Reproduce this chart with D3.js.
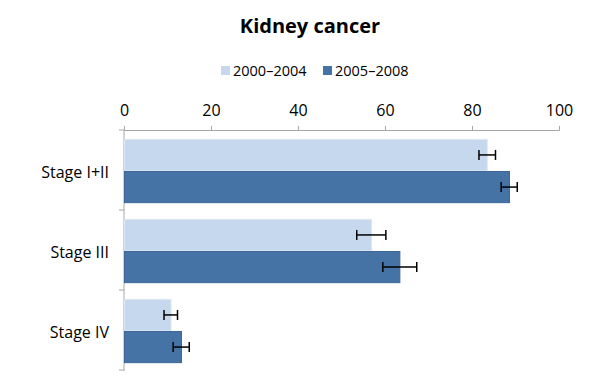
<!DOCTYPE html>
<html>
<head>
<meta charset="utf-8">
<script src="https://cdn.jsdelivr.net/npm/d3@7"></script>
<style>
  body { margin: 0; background: #fff; }
  text { font-family: "Open Sans", "Liberation Sans", sans-serif; fill: #000; }
</style>
</head>
<body>
<script>
// chart data
var categories = ['Stage I+II', 'Stage III', 'Stage IV'];
var seriesNames = ['2000–2004', '2005–2008'];
var values2000 = [83.4, 56.8, 10.7];
var values2005 = [88.5, 63.3, 13.1];
var lower2000 = [81.6, 53.5, 9.2];
var upper2000 = [85.4, 60.2, 12.3];
var lower2005 = [86.7, 59.5, 11.3];
var upper2005 = [90.4, 67.3, 15.0];
var xTicks = [0, 20, 40, 60, 80, 100];

var colors = ['#c5d8ed', '#4573a5'];
var strokes = ['#dce7f4', '#3d6797'];

var width = 608, height = 385;
var svg = d3.select('body').append('svg')
  .attr('width', width).attr('height', height);

var x = d3.scaleLinear().domain([0, 100]).range([124, 559]);
var y = d3.scaleBand().domain(categories).range([130, 370]);
var sub = d3.scaleBand().domain([0, 1]).range([0, 80])
  .paddingOuter(0.26).paddingInner(0.03).align(0.56);

// title
svg.append('text')
  .attr('x', 310).attr('y', 33)
  .attr('text-anchor', 'middle')
  .style('font-size', '20px').style('font-weight', 'bold')
  .text('Kidney cancer');

// legend
var legendX = [221, 323];
seriesNames.forEach(function(name, i) {
  svg.append('rect')
    .attr('x', legendX[i]).attr('y', 66)
    .attr('width', 9).attr('height', 9)
    .attr('fill', colors[i]);
  svg.append('text')
    .attr('x', legendX[i] + 12).attr('y', 76)
    .style('font-size', '14.5px')
    .text(name);
});

// x axis on top
var xAxis = svg.append('g').attr('transform', 'translate(0,130)')
  .call(d3.axisTop(x).tickValues(xTicks).tickSize(4).tickPadding(10));
xAxis.select('.domain').attr('stroke', '#a6a6a6');
xAxis.selectAll('.tick line').attr('stroke', '#a6a6a6');
xAxis.selectAll('.tick text')
  .style('font-size', '16px')
  .style('font-family', '"Open Sans", "Liberation Sans", sans-serif')
  .attr('fill', '#000');

// y axis
var yAxisG = svg.append('g');
yAxisG.append('line')
  .attr('x1', 124).attr('x2', 124).attr('y1', 130).attr('y2', 371)
  .attr('stroke', '#a6a6a6');
var bounds = [130, 210, 290, 370];
yAxisG.selectAll('.ytick').data(bounds).enter().append('line')
  .attr('x1', 119).attr('x2', 124)
  .attr('y1', function(d) { return d; }).attr('y2', function(d) { return d; })
  .attr('stroke', '#a6a6a6');

svg.selectAll('.cat').data(categories).enter().append('text')
  .attr('x', 109)
  .attr('y', function(d) { return y(d) + y.bandwidth() / 2 + 8; })
  .attr('text-anchor', 'end')
  .style('font-size', '16px')
  .text(function(d) { return d; });

// bars
var seriesVals = [values2000, values2005];
var lows = [lower2000, lower2005];
var highs = [upper2000, upper2005];

seriesVals.forEach(function(vals, s) {
  svg.selectAll('.bar' + s).data(vals).enter().append('rect')
    .attr('x', x(0) + 0.5)
    .attr('y', function(d, i) { return y(categories[i]) + sub(s); })
    .attr('width', function(d) { return x(d) - x(0); })
    .attr('height', sub.bandwidth())
    .attr('fill', colors[s])
    .attr('stroke', strokes[s]);
});

// error bars
seriesVals.forEach(function(vals, s) {
  vals.forEach(function(v, i) {
    var cy = y(categories[i]) + sub(s) + sub.bandwidth() / 2;
    var g = svg.append('g').attr('stroke', '#000').attr('stroke-width', 1.5);
    g.append('line').attr('x1', x(lows[s][i])).attr('x2', x(highs[s][i]))
      .attr('y1', cy).attr('y2', cy);
    g.append('line').attr('x1', x(lows[s][i])).attr('x2', x(lows[s][i]))
      .attr('y1', cy - 5).attr('y2', cy + 5);
    g.append('line').attr('x1', x(highs[s][i])).attr('x2', x(highs[s][i]))
      .attr('y1', cy - 5).attr('y2', cy + 5);
  });
});
</script>
</body>
</html>
